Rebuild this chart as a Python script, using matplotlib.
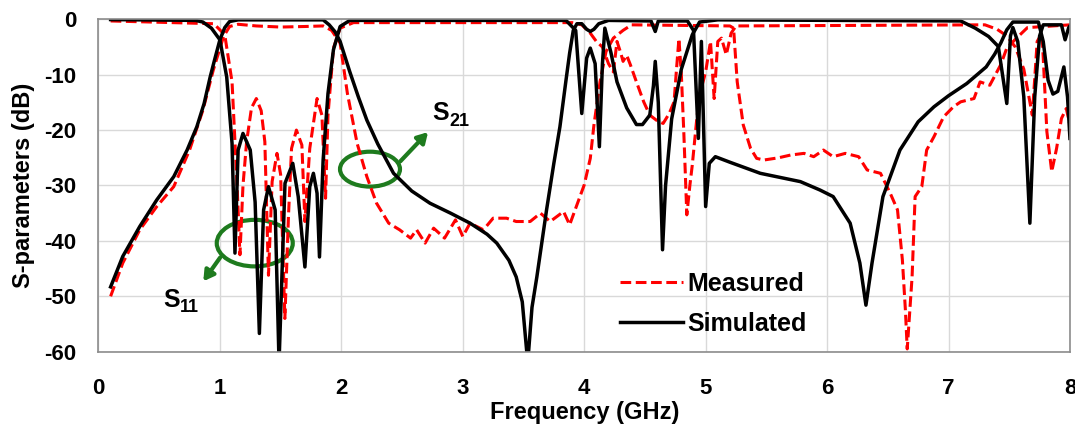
import numpy as np
import matplotlib
matplotlib.use("Agg")
import matplotlib.pyplot as plt
from matplotlib.patches import Ellipse

plt.rcParams['font.family'] = ['Liberation Sans', 'DejaVu Sans']
plt.rcParams['axes.unicode_minus'] = False

# ---- data (frequency in GHz, level in dB) ----
sim_s21_f = [0.1, 0.2, 0.34, 0.48, 0.62, 0.73, 0.81, 0.87, 0.92, 0.96, 1.0, 1.04, 1.08, 1.15,
             1.85, 1.90, 1.95, 1.99, 2.07, 2.14, 2.21, 2.30, 2.43, 2.58, 2.73, 2.90, 3.06, 3.20,
             3.28, 3.38, 3.44, 3.49, 3.535, 3.57, 3.61, 3.69, 3.75, 3.80, 3.85, 3.88, 3.91, 3.94,
             3.98, 4.02, 4.05, 4.08, 4.12, 4.20, 4.55, 4.585, 4.61, 4.85, 4.90, 4.94, 4.965, 5.0,
             5.03, 5.08, 5.20, 5.45, 5.78, 5.94, 6.05, 6.19, 6.27, 6.32, 6.37, 6.46, 6.60, 6.75,
             6.88, 7.0, 7.15, 7.31, 7.38, 7.43, 7.48, 7.53, 7.74, 7.78, 7.82, 7.86, 7.90, 7.95,
             7.98, 8.0]
sim_s21_db = [-48.3, -42.8, -37.4, -32.6, -28.4, -23.6, -19.4, -15.2, -10.4, -7.0, -3.7, -1.5, -0.4, -0.1,
              -0.1, -1.0, -2.3, -4.0, -9.5, -14.0, -18.2, -22.5, -27.8, -31.0, -33.2, -35.0, -36.8, -38.8,
              -40.4, -43.5, -46.5, -51.0, -62.0, -52.0, -46.5, -34.4, -26.0, -19.4, -11.0, -6.1, -2.0, -0.8,
              -0.8, -1.8, -2.2, -1.8, -0.8, -0.2, -0.3, -2.2, -0.3, -0.3, -2.0, -21.5, -4.0, -33.8,
              -26.0, -24.8, -25.8, -27.8, -29.3, -30.8, -32.0, -36.8, -44.0, -51.6, -44.0, -32.0, -23.6, -18.5,
              -15.8, -13.8, -11.6, -8.6, -6.3, -4.3, -1.9, -0.5, -0.5, -4.0, -11.0, -13.5, -13.0, -8.6,
              -14.0, -21.5]

sim_s11_f = [0.1, 0.8, 0.86, 0.93, 1.0, 1.056, 1.10, 1.124, 1.15, 1.19, 1.25, 1.29, 1.325, 1.36,
             1.40, 1.455, 1.487, 1.536, 1.60, 1.645, 1.70, 1.74, 1.77, 1.80, 1.82, 1.85, 1.89, 1.935,
             1.99, 2.07, 3.85, 3.93, 3.98, 4.02, 4.05, 4.09, 4.125, 4.15, 4.17, 4.22, 4.27, 4.35,
             4.43, 4.48, 4.54, 4.57, 4.585, 4.61, 4.645, 4.67, 4.72, 4.80, 4.89, 4.95, 5.10, 7.10,
             7.22, 7.33, 7.41, 7.48, 7.51, 7.53, 7.57, 7.62, 7.67, 7.71, 7.75, 7.78, 7.93, 7.96,
             7.99, 8.0]
sim_s11_db = [-0.05, -0.2, -0.5, -1.6, -3.7, -10.4, -22.4, -42.2, -23.6, -20.6, -23.6, -33.0, -56.7, -34.4,
              -30.2, -34.4, -62.0, -29.6, -26.0, -32.0, -44.7, -30.2, -27.8, -31.4, -42.9, -25.4, -13.4, -5.5,
              -1.3, -0.2, -0.2, -2.0, -17.0, -7.0, -5.2, -8.0, -23.0, -8.0, -1.6, -6.0, -11.3, -16.0,
              -19.0, -19.0, -17.3, -12.0, -7.6, -15.0, -41.6, -30.0, -18.0, -9.0, -2.8, -0.5, -0.1, -0.3,
              -1.6, -3.1, -4.9, -15.2, -3.0, -1.5, -4.0, -14.0, -36.8, -14.0, -3.0, -1.0, -1.0, -3.7,
              -1.5, -1.2]

meas_s21_f = [0.1, 0.2, 0.34, 0.48, 0.62, 0.75, 0.86, 0.945, 1.03, 1.08, 1.15, 1.3, 1.5, 1.7,
              1.85, 1.92, 1.99, 2.05, 2.13, 2.21, 2.29, 2.39, 2.48, 2.57, 2.62, 2.69, 2.76, 2.85,
              2.94, 3.0, 3.06, 3.17, 3.25, 3.36, 3.44, 3.555, 3.64, 3.72, 3.83, 3.88, 3.94, 4.0,
              4.05, 4.08, 4.13, 4.18, 4.24, 4.32, 4.39, 5.2, 5.23, 5.26, 5.31, 5.37, 5.42, 5.48,
              5.6, 5.70, 5.81, 5.89, 5.97, 6.05, 6.15, 6.26, 6.33, 6.44, 6.52, 6.58, 6.62, 6.645,
              6.66, 6.70, 6.725, 6.78, 6.82, 6.88, 6.96, 7.04, 7.10, 7.21, 7.26, 7.34, 7.43, 7.48,
              7.56, 7.65, 8.0]
meas_s21_db = [-50.0, -44.0, -38.0, -33.8, -30.2, -23.6, -16.4, -9.2, -3.1, -1.3, -0.9, -1.2, -1.4, -1.3,
               -1.2, -2.0, -4.3, -13.4, -22.4, -28.4, -33.2, -36.8, -38.0, -39.5, -38.0, -40.4, -37.7, -39.5,
               -36.2, -39.2, -36.8, -38.0, -35.9, -35.9, -36.5, -36.5, -35.0, -36.5, -34.7, -37.1, -33.5, -29.9,
               -25.1, -19.1, -11.3, -5.8, -3.4, -2.0, -1.0, -1.2, -1.6, -11.3, -19.1, -23.3, -25.1, -25.4,
               -25.0, -24.5, -24.2, -24.8, -23.6, -24.8, -24.2, -24.8, -27.2, -27.8, -31.4, -34.4, -43.4, -52.5,
               -59.5, -46.5, -32.0, -30.2, -23.6, -21.2, -17.6, -15.8, -14.9, -14.3, -11.3, -11.9, -8.2, -5.2,
               -3.4, -1.5, -1.0]

meas_s11_f = [0.1, 0.95, 1.04, 1.10, 1.14, 1.165, 1.19, 1.22, 1.26, 1.30, 1.34, 1.37, 1.40, 1.43,
              1.47, 1.50, 1.535, 1.565, 1.59, 1.63, 1.675, 1.70, 1.74, 1.80, 1.84, 1.87, 1.89, 1.935,
              1.99, 2.1, 3.9, 3.98, 4.05, 4.10, 4.15, 4.20, 4.24, 4.27, 4.30, 4.32, 4.35, 4.38,
              4.43, 4.49, 4.54, 4.60, 4.65, 4.70, 4.74, 4.76, 4.78, 4.80, 4.82, 4.845, 4.87, 4.89,
              4.93, 4.97, 5.0, 5.04, 5.07, 5.10, 5.13, 5.17, 5.21, 5.25, 7.3, 7.4, 7.48, 7.55,
              7.62, 7.69, 7.73, 7.77, 7.81, 7.85, 7.89, 7.93, 7.97, 8.0]
meas_s11_db = [-0.3, -0.8, -2.8, -11.3, -29.3, -42.5, -30.0, -22.1, -16.0, -14.3, -16.5, -22.1, -46.2, -29.3,
               -24.2, -28.0, -54.0, -35.3, -23.3, -20.0, -22.7, -36.5, -23.3, -14.3, -17.3, -32.3, -17.3, -5.2,
               -1.6, -0.6, -0.6, -1.0, -2.5, -4.0, -5.0, -8.0, -9.5, -4.0, -6.0, -7.6, -6.5, -8.2,
               -11.3, -14.9, -17.3, -18.3, -18.8, -17.0, -14.9, -9.0, -3.5, -10.0, -20.3, -35.3, -30.0, -26.3,
               -17.3, -12.0, -9.5, -4.0, -14.3, -4.0, -3.4, -6.4, -2.5, -1.2, -1.0, -1.8, -3.0, -5.0,
               -9.0, -17.3, -4.0, -2.5, -20.3, -27.5, -23.3, -17.9, -16.1, -19.1]

x_ticks = [0, 1, 2, 3, 4, 5, 6, 7, 8]
y_ticks = [0, -10, -20, -30, -40, -50, -60]

RED = '#ff0000'
GREEN = '#1e7b1e'

fig = plt.figure(figsize=(10.75, 4.24), dpi=100)
ax = fig.add_axes([0.0916, 0.1705, 0.9037, 0.784])

ax.plot(meas_s11_f, meas_s11_db, color=RED, lw=2.2, dashes=(3.5, 1.5), label='Measured')
ax.plot(meas_s21_f, meas_s21_db, color=RED, lw=2.2, dashes=(3.5, 1.5))
ax.plot(sim_s11_f, sim_s11_db, color='black', lw=2.5, label='Simulated')
ax.plot(sim_s21_f, sim_s21_db, color='black', lw=2.5)

ax.set_xlim(0, 8)
ax.set_ylim(-60, 0)
ax.set_xticks(x_ticks)
ax.set_yticks(y_ticks)
ax.grid(True, color='#d9d9d9', lw=1.0)
ax.set_axisbelow(True)
for s in ax.spines.values():
    s.set_color('#8c8c8c')
    s.set_linewidth(1.2)
ax.tick_params(axis='both', length=0, labelsize=16)
ax.tick_params(axis='x', pad=19)
ax.tick_params(axis='y', pad=16)
for lab in ax.get_xticklabels() + ax.get_yticklabels():
    lab.set_fontweight('bold')

ax.set_xlabel('Frequency (GHz)', fontsize=17, fontweight='bold')
ax.xaxis.set_label_coords(0.5, -0.147)
ax.set_ylabel('S-parameters (dB)', fontsize=17, fontweight='bold')
ax.yaxis.set_label_coords(-0.065, 0.5)

leg = ax.legend(loc='upper left', bbox_to_anchor=(0.537, 0.24), frameon=False,
                prop={'size': 18, 'weight': 'bold'}, handlelength=2.5, handletextpad=0.2,
                labelspacing=0.65, borderpad=0, borderaxespad=0)

# green ellipse markers with arrows
ax.add_patch(Ellipse((1.287, -40.4), 0.626, 8.4, fill=False, ec=GREEN, lw=3))
ax.annotate('', xy=(0.85, -47.7), xytext=(1.015, -42.6),
            arrowprops=dict(arrowstyle='-|>,head_length=0.6,head_width=0.35', color=GREEN, lw=3))
ax.add_patch(Ellipse((2.236, -27.05), 0.494, 6.3, fill=False, ec=GREEN, lw=3))
ax.annotate('', xy=(2.73, -20.0), xytext=(2.47, -26.0),
            arrowprops=dict(arrowstyle='-|>,head_length=0.6,head_width=0.35', color=GREEN, lw=3))


def sub_label(x, y, main, sub):
    ax.text(x, y, main, fontsize=18, fontweight='bold', ha='left', va='baseline')
    ax.annotate(sub, xy=(x, y), xytext=(12.5, -4), textcoords='offset points',
                fontsize=13, fontweight='bold', ha='left', va='baseline')


sub_label(0.531, -51.9, 'S', '11')
sub_label(2.747, -18.2, 'S', '21')

fig.savefig('out.png', dpi=100)
